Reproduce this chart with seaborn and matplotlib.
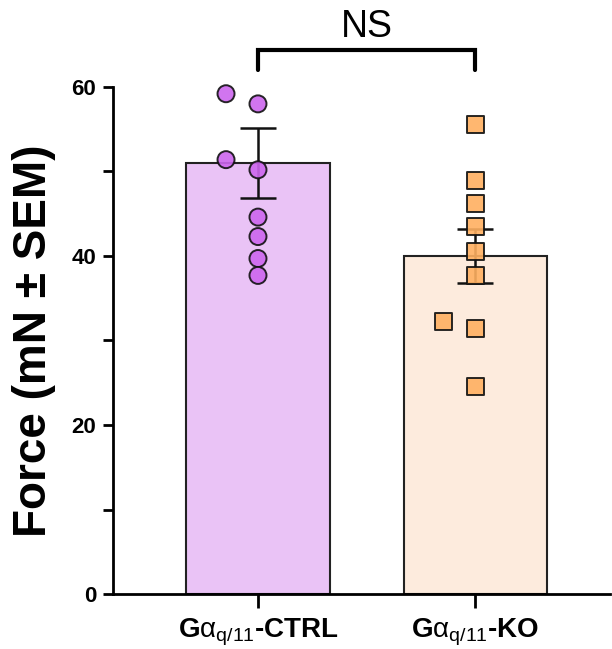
import numpy as np
import pandas as pd
import matplotlib
matplotlib.use("Agg")
import matplotlib.pyplot as plt
import seaborn as sns

# values
groups = ["CTRL", "KO"]
tick_labels = [r"G$\alpha_{q/11}$-CTRL", r"G$\alpha_{q/11}$-KO"]
bar_means = [51.0, 40.0]
bar_sem = [4.1, 3.2]
ctrl_points = [59.2, 58.0, 51.4, 50.2, 44.6, 42.3, 39.7, 37.7]
ko_points = [55.6, 48.9, 46.2, 43.5, 40.5, 37.7, 32.2, 31.4, 24.5]

sns.set_style("ticks")
plt.rcParams["font.family"] = ["Liberation Sans", "DejaVu Sans"]
plt.rcParams["mathtext.fontset"] = "custom"
plt.rcParams["mathtext.rm"] = "Liberation Sans"
plt.rcParams["mathtext.it"] = "Liberation Sans"
plt.rcParams["mathtext.default"] = "rm"
for key in ["text.color", "axes.labelcolor", "xtick.color", "ytick.color", "axes.edgecolor"]:
    plt.rcParams[key] = "black"

bar_colors = ["#EAC3F6", "#FDEBDD"]
dot_colors = ["#CC66EE", "#FFB061"]

fig = plt.figure(figsize=(6.12, 6.49), dpi=100)
ax = fig.add_axes([0.1846, 0.0847, 0.8124, 0.7813])

bars = pd.DataFrame({"group": groups, "force": bar_means})
sns.barplot(data=bars, x="group", y="force", hue="group", palette=bar_colors,
            saturation=1, width=0.66, edgecolor="#222222", linewidth=1.5,
            legend=False, ax=ax, zorder=1)

ax.errorbar(range(len(groups)), bar_means, yerr=bar_sem, fmt="none",
            ecolor="#111111", elinewidth=1.8, capsize=13, capthick=1.8, zorder=3)

# scatter of individual animals (a few nudged left like the original)
ctrl_dx = [-0.147, 0, -0.147, 0, 0, 0, 0, 0]
ko_dx = [0, 0, 0, 0, 0, 0, -0.147, 0, 0]
pts = pd.DataFrame({
    "x": [0 + d for d in ctrl_dx] + [1 + d for d in ko_dx],
    "force": ctrl_points + ko_points,
    "group": ["CTRL"] * len(ctrl_points) + ["KO"] * len(ko_points),
})
sns.scatterplot(data=pts, x="x", y="force", hue="group", style="group",
                markers={"CTRL": "o", "KO": "s"}, palette=dot_colors,
                s=150, edgecolor="#111111", linewidth=1.4, alpha=0.9,
                legend=False, ax=ax, zorder=4, clip_on=False)

ax.set_xlim(-0.667, 1.62)
ax.set_ylim(0, 60)
ax.set_xticks(range(len(groups)))
ax.set_xticklabels(tick_labels, fontsize=20, fontweight="bold")
ax.set_yticks([0, 20, 40, 60])
ax.set_yticks([10, 30, 50], minor=True)
ax.tick_params(axis="y", which="both", length=7, width=2, labelsize=16, pad=5)
ax.tick_params(axis="x", length=10, width=2, pad=6)
for lab in ax.get_yticklabels():
    lab.set_fontweight("bold")
ax.set_xlabel("")
ax.set_ylabel("Force (mN ± SEM)", fontsize=33, fontweight="bold")
ax.yaxis.set_label_coords(-0.115, 0.5)

sns.despine(ax=ax)
ax.spines["left"].set_linewidth(2)
ax.spines["bottom"].set_linewidth(2)

# NS bracket
ax.plot([0, 0, 1, 1], [62.0, 64.4, 64.4, 62.0], color="black", lw=3,
        clip_on=False, solid_joinstyle="miter")
ax.text(0.5, 65.0, "NS", ha="center", va="bottom", fontsize=27)

fig.savefig("out.png", dpi=100)
